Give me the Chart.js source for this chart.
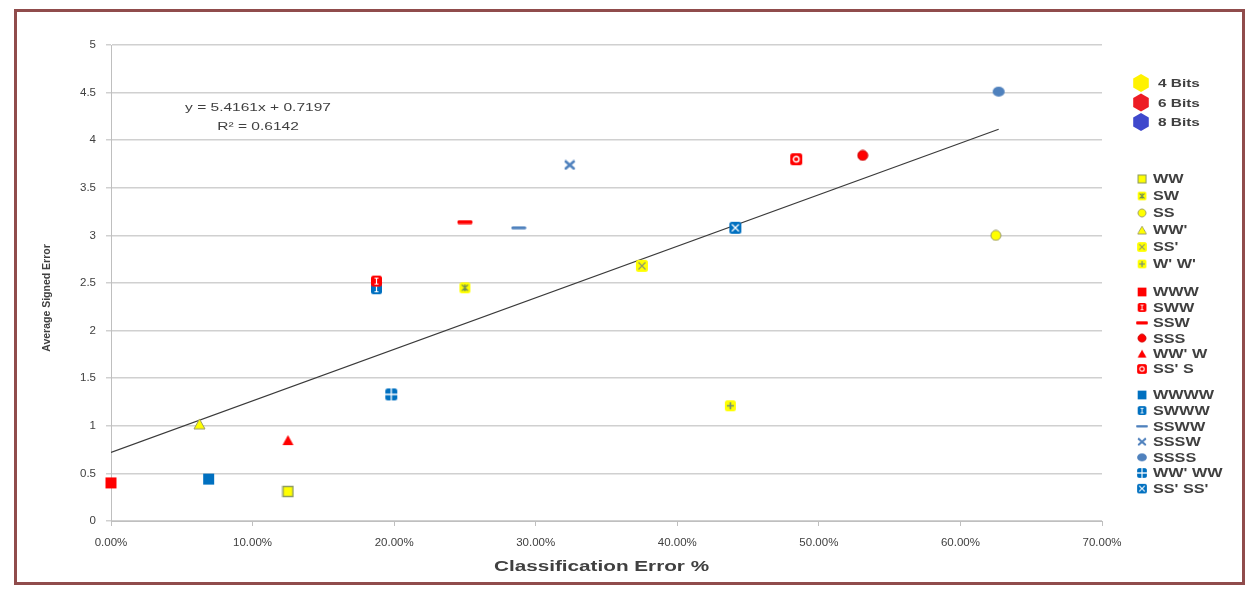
<!DOCTYPE html>
<html>
<head>
<meta charset="utf-8">
<script src="https://cdn.jsdelivr.net/npm/chart.js@4.4.1/dist/chart.umd.min.js"></script>
<style>
  body { margin: 0; background: #fff; }
  #wrap { position: relative; width: 1258px; height: 595px; }
</style>
</head>
<body>
<div id="wrap"><canvas id="myChart" width="1258" height="595"></canvas></div>
<script>
// one point per configuration: classification error (fraction) vs average signed error
var seriesNames = ['WW', 'SW', 'SS', "WW'", "SS'", "W' W'",
  'WWW', 'SWW', 'SSW', 'SSS', "WW' W", "SS' S",
  'WWWW', 'SWWW', 'SSWW', 'SSSW', 'SSSS', "WW' WW", "SS' SS'"];
var classError = [0.125, 0.25, 0.625, 0.0625, 0.375, 0.4375,
  0, 0.1875, 0.25, 0.531, 0.125, 0.484,
  0.069, 0.1875, 0.288, 0.324, 0.627, 0.198, 0.441];
var signedError = [0.31, 2.45, 3.0, 1.02, 2.68, 1.21,
  0.40, 2.52, 3.14, 3.84, 0.85, 3.80,
  0.44, 2.44, 3.08, 3.74, 4.51, 1.33, 3.08];
var bitLabels = ['4 Bits', '6 Bits', '8 Bits'];
var bitColors = ['#fff200', '#ed1c24', '#3f48cc'];

// linear trend printed on the chart
var trendSlope = 5.4161;
var trendIntercept = 0.7197;
var trendR2 = 0.6142;

var yTicks = { min: 0, max: 5, step: 0.5 };
var xTicks = { min: 0, max: 0.7, step: 0.1 };
var xTitle = 'Classification Error %';
var yTitle = 'Average Signed Error';

var YEL = '#ffff00', RED = '#ff0000', BLU = '#0070c0', STEEL = '#4f81bd';

function mk(w, h, fn) {
  var c = document.createElement('canvas');
  c.width = w; c.height = h;
  fn(c.getContext('2d'), w, h);
  return c;
}
function rrect(g, x, y, w, h, r) {
  g.beginPath();
  g.moveTo(x + r, y);
  g.arcTo(x + w, y, x + w, y + h, r);
  g.arcTo(x + w, y + h, x, y + h, r);
  g.arcTo(x, y + h, x, y, r);
  g.arcTo(x, y, x + w, y, r);
  g.closePath();
}
function box(fill, stroke) {
  return function (g, w, h) {
    g.fillStyle = fill;
    g.fillRect(1, 1, w - 2, h - 2);
    if (stroke) { g.strokeStyle = stroke; g.lineWidth = 1.5; g.strokeRect(1.5, 1.5, w - 3, h - 3); }
  };
}
function tri(fill, stroke) {
  return function (g, w, h) {
    g.beginPath();
    g.moveTo(w / 2, 1); g.lineTo(w - 1, h - 1); g.lineTo(1, h - 1); g.closePath();
    g.fillStyle = fill; g.fill();
    if (stroke) { g.strokeStyle = stroke; g.lineWidth = 1; g.stroke(); }
  };
}
function dot(fill, stroke) {
  return function (g, w, h) {
    g.beginPath();
    g.ellipse(w / 2, h / 2, w / 2 - 1, h / 2 - 1, 0, 0, Math.PI * 2);
    g.fillStyle = fill; g.fill();
    if (stroke) { g.strokeStyle = stroke; g.lineWidth = 1; g.stroke(); }
  };
}
function dash(col) {
  return function (g, w, h) { g.fillStyle = col; rrect(g, 0.5, 0.5, w - 1, h - 1, 1.5); g.fill(); };
}
function inner(fill, mark, color, lw) {
  return function (g, w, h) {
    g.fillStyle = fill;
    rrect(g, 1, 1, w - 2, h - 2, 2.5); g.fill();
    g.strokeStyle = color; g.lineWidth = lw || 1.5;
    var a = 3.5, b = w - 3.5;
    g.beginPath();
    if (mark === 'x' || mark === 'ast') { g.moveTo(a, a); g.lineTo(b, b); g.moveTo(b, a); g.lineTo(a, b); }
    if (mark === 'plus' || mark === 'ast') { g.moveTo(w / 2, a - 0.5); g.lineTo(w / 2, b + 0.5); }
    if (mark === 'plus') { g.moveTo(a - 0.5, h / 2); g.lineTo(b + 0.5, h / 2); }
    if (mark === 'bar') { g.moveTo(w / 2, 3); g.lineTo(w / 2, h - 3); g.moveTo(w / 2 - 2, 3.5); g.lineTo(w / 2 + 2, 3.5); g.moveTo(w / 2 - 2, h - 3.5); g.lineTo(w / 2 + 2, h - 3.5); }
    if (mark === 'grid') { g.moveTo(w / 2, 1); g.lineTo(w / 2, h - 1); g.moveTo(1, h / 2); g.lineTo(w - 1, h / 2); }
    if (mark === 'ring') { g.arc(w / 2, h / 2, 2.8, 0, Math.PI * 2); }
    g.stroke();
  };
}
function cross(col) {
  return function (g, w, h) {
    g.strokeStyle = col; g.lineWidth = 2.6; g.lineCap = 'round';
    g.beginPath(); g.moveTo(2, 2); g.lineTo(w - 2, h - 2); g.moveTo(w - 2, 2); g.lineTo(2, h - 2); g.stroke();
  };
}

var markers = [
  mk(13, 13, box(YEL, '#8f9d62')),
  mk(13, 13, inner(YEL, 'ast', '#6f8f55', 1.2)),
  mk(12, 12, dot(YEL, '#9a9a6a')),
  mk(13, 12, tri(YEL, '#9a9a6a')),
  mk(14, 14, inner(YEL, 'x', '#8f9a6a', 1.3)),
  mk(13, 13, inner(YEL, 'plus', '#6f8f7a', 1.6)),
  mk(13, 13, box(RED)),
  mk(13, 13, inner(RED, 'bar', '#ffffff', 1.2)),
  mk(16, 5, dash(RED)),
  mk(12, 12, dot(RED, '#cc0000')),
  mk(13, 12, tri(RED)),
  mk(14, 14, inner(RED, 'ring', '#ffffff', 1.4)),
  mk(13, 13, box(BLU)),
  mk(13, 13, inner(BLU, 'bar', '#ffffff', 1.2)),
  mk(16, 4, dash(STEEL)),
  mk(12, 11, cross(STEEL)),
  mk(14, 12, dot(STEEL)),
  mk(14, 14, inner(BLU, 'grid', '#ffffff', 1.3)),
  mk(14, 14, inner(BLU, 'x', '#ffffff', 1.3))
];

var datasets = seriesNames.map(function (name, i) {
  return {
    label: name,
    data: [{ x: classError[i], y: signedError[i] }],
    pointStyle: markers[i],
    pointRadius: 6,
    showLine: false,
    clip: false
  };
});

// trend line across the data range
var xEnd = Math.max.apply(null, classError);
datasets.push({
  type: 'line',
  label: 'trend',
  data: [{ x: 0, y: trendIntercept }, { x: xEnd, y: trendSlope * xEnd + trendIntercept }],
  borderColor: '#3a3a3a',
  borderWidth: 1.2,
  pointRadius: 0,
  fill: false
});

var txt = '#404040';
var legendGroups = [[0, 1, 2, 3, 4, 5], [6, 7, 8, 9, 10, 11], [12, 13, 14, 15, 16, 17, 18]];
var groupTop = [179, 292, 395];
var groupStep = [17, 15.4, 15.6];

// wide, squat lettering (align follows ctx.textAlign)
function wideText(g, s, x, y, sx) {
  g.save();
  g.translate(x, y);
  g.scale(sx, 1);
  g.fillText(s, 0, 0);
  g.restore();
}

var extras = {
  id: 'extras',
  beforeDraw: function (chart) {
    var g = chart.ctx;
    g.save();
    g.fillStyle = '#fff';
    g.fillRect(0, 0, chart.width, chart.height);
    g.restore();
  },
  afterDraw: function (chart) {
    var g = chart.ctx;
    var area = chart.chartArea;
    g.save();
    // outer frame
    g.strokeStyle = '#904c4c';
    g.lineWidth = 3;
    g.strokeRect(15.5, 10.5, 1228, 573);

    // trend equation
    g.fillStyle = txt;
    g.font = '11.5px "Liberation Sans", Arial, sans-serif';
    g.textAlign = 'center';
    g.textBaseline = 'middle';
    var tx = area.left + 147;
    wideText(g, 'y = ' + trendSlope + 'x + ' + trendIntercept, tx, 108, 1.35);
    wideText(g, 'R\u00b2 = ' + trendR2, tx, 127, 1.35);

    // axis titles
    g.font = 'bold 15px "Liberation Sans", Arial, sans-serif';
    wideText(g, xTitle, (area.left + area.right) / 2 - 5, 567, 1.38);
    g.save();
    g.translate(47, 298);
    g.rotate(-Math.PI / 2);
    g.font = 'bold 10.5px "Liberation Sans", Arial, sans-serif';
    g.fillText(yTitle, 0, 0);
    g.restore();

    // bits legend
    g.textAlign = 'left';
    g.font = 'bold 11px "Liberation Sans", Arial, sans-serif';
    bitLabels.forEach(function (lab, i) {
      var cy = 83 + i * 19.5, cx = 1141, r = 9;
      g.beginPath();
      for (var k = 0; k < 6; k++) {
        var ang = -Math.PI / 2 + k * Math.PI / 3;
        var px = cx + r * Math.cos(ang), py = cy + r * Math.sin(ang);
        if (k === 0) g.moveTo(px, py); else g.lineTo(px, py);
      }
      g.closePath();
      g.fillStyle = bitColors[i];
      g.fill();
      g.fillStyle = txt;
      wideText(g, lab, 1158, cy + 1, 1.4);
    });

    // series legend
    g.font = 'bold 12px "Liberation Sans", Arial, sans-serif';
    legendGroups.forEach(function (grp, gi) {
      grp.forEach(function (idx, j) {
        var cy = groupTop[gi] + j * groupStep[gi];
        var m = markers[idx];
        var w = m.width * 0.8, h = m.height * 0.8;
        g.drawImage(m, 1142 - w / 2, cy - h / 2, w, h);
        g.fillStyle = txt;
        wideText(g, seriesNames[idx], 1153, cy + 1, 1.35);
      });
    });
    g.restore();
  }
};

var tickFont = { family: '"Liberation Sans", Arial, sans-serif', size: 11.5 };

new Chart(document.getElementById('myChart'), {
  type: 'scatter',
  data: { datasets: datasets },
  options: {
    responsive: false,
    animation: false,
    layout: { padding: { left: 22, right: 156, top: 45, bottom: 14 } },
    plugins: { legend: { display: false }, tooltip: { enabled: false } },
    scales: {
      x: {
        type: 'linear',
        min: xTicks.min,
        max: xTicks.max,
        afterFit: function (s) { s.height = 60; },
        ticks: {
          stepSize: xTicks.step,
          color: txt,
          font: tickFont,
          padding: 10,
          callback: function (v) { return (v * 100).toFixed(2) + '%'; }
        },
        grid: { drawOnChartArea: false, drawTicks: true, tickLength: 5, color: '#bfbfbf' },
        border: { color: '#bfbfbf' },
        title: { display: false }
      },
      y: {
        min: yTicks.min,
        max: yTicks.max,
        afterFit: function (s) { s.width = 89; },
        ticks: {
          stepSize: yTicks.step,
          color: txt,
          font: tickFont,
          padding: 10,
          callback: function (v) { return String(Math.round(v * 10) / 10); }
        },
        grid: { color: '#d0d0d0', lineWidth: 1.5, tickLength: 5 },
        border: { color: '#bfbfbf' },
        title: { display: false }
      }
    }
  },
  plugins: [extras]
});
</script>
</body>
</html>
